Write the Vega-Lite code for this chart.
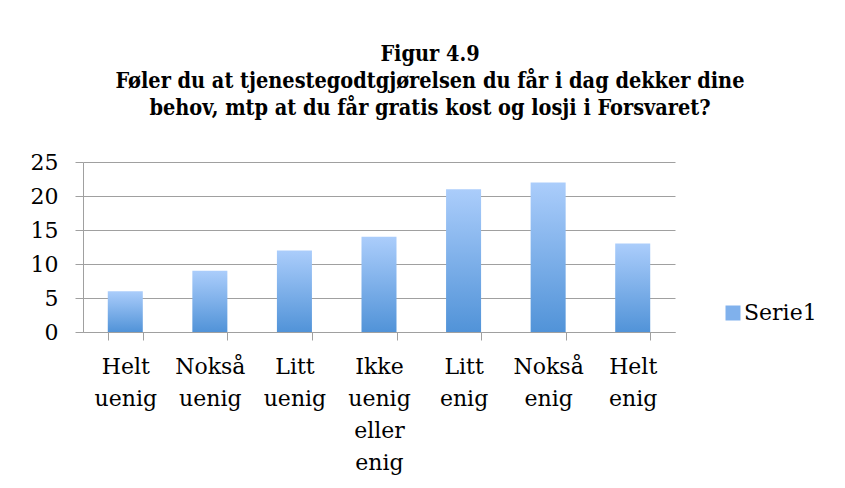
{
  "$schema": "https://vega.github.io/schema/vega-lite/v6.json",
  "width": 592,
  "height": 170,
  "autosize": {"type": "none"},
  "padding": {"left": 83, "top": 162, "right": 170, "bottom": 156},
  "background": "white",
  "title": {
    "text": ["Figur 4.9", "Føler du at tjenestegodtgjørelsen du får i dag dekker dine", "behov, mtp at du får gratis kost og losji i Forsvaret?"],
    "font": "'DejaVu Serif Condensed', 'DejaVu Serif'",
    "fontSize": 21.5,
    "fontWeight": "bold",
    "color": "#000000",
    "lineHeight": 27,
    "anchor": "middle",
    "frame": "group",
    "dx": 51,
    "offset": 10,
    "baseline": "bottom"
  },
  "data": {
    "values": [
      {"kategori": "Helt uenig", "antall": 6},
      {"kategori": "Nokså uenig", "antall": 9},
      {"kategori": "Litt uenig", "antall": 12},
      {"kategori": "Ikke uenig eller enig", "antall": 14},
      {"kategori": "Litt enig", "antall": 21},
      {"kategori": "Nokså enig", "antall": 22},
      {"kategori": "Helt enig", "antall": 13}
    ]
  },
  "encoding": {
    "x": {
      "field": "kategori",
      "type": "nominal",
      "sort": null,
      "scale": {"paddingInner": 0.586, "paddingOuter": 0.293},
      "axis": {
        "title": null,
        "labelAngle": 0,
        "labelExpr": "split(datum.label, ' ')",
        "labelFont": "DejaVu Serif",
        "labelFontSize": 22,
        "labelColor": "#000000",
        "labelLineHeight": 32,
        "labelPadding": 16,
        "labelOverlap": false,
        "tickBand": "extent",
        "tickSize": 8,
        "tickColor": "#a0a0a0",
        "domainColor": "#a0a0a0",
        "grid": false
      }
    },
    "y": {
      "field": "antall",
      "type": "quantitative",
      "scale": {"domain": [0, 25], "nice": false},
      "axis": {
        "title": null,
        "values": [0, 5, 10, 15, 20, 25],
        "tickSize": 8,
        "labelPadding": 17,
        "labelFont": "DejaVu Serif",
        "labelFontSize": 22,
        "labelColor": "#000000",
        "gridColor": "#a0a0a0",
        "domainColor": "#a0a0a0",
        "tickColor": "#a0a0a0"
      }
    }
  },
  "layer": [
    {
      "mark": {
        "type": "bar",
        "color": {
          "gradient": "linear",
          "x1": 0, "y1": 0, "x2": 0, "y2": 1,
          "stops": [
            {"offset": 0, "color": "#abcdfb"},
            {"offset": 1, "color": "#5193d8"}
          ]
        }
      }
    },
    {
      "mark": {"type": "square", "opacity": 0, "filled": true},
      "encoding": {
        "color": {
          "datum": "Serie1",
          "scale": {"range": ["#80b1ec"]},
          "legend": {
            "title": null,
            "orient": "none",
            "legendX": 639,
            "legendY": 140,
            "padding": 0,
            "symbolType": "square",
            "symbolSize": 225,
            "symbolOpacity": 1,
            "symbolStrokeWidth": 0,
            "labelFont": "DejaVu Serif",
            "labelFontSize": 22,
            "labelColor": "#000000",
            "labelOffset": 0,
            "encode": {
              "labels": {"update": {"font": {"value": "DejaVu Serif"}}}
            }
          }
        }
      }
    }
  ],
  "config": {
    "font": "DejaVu Serif",
    "view": {"stroke": null},
    "legend": {"labelFont": "DejaVu Serif", "labelFontSize": 22}
  }
}
